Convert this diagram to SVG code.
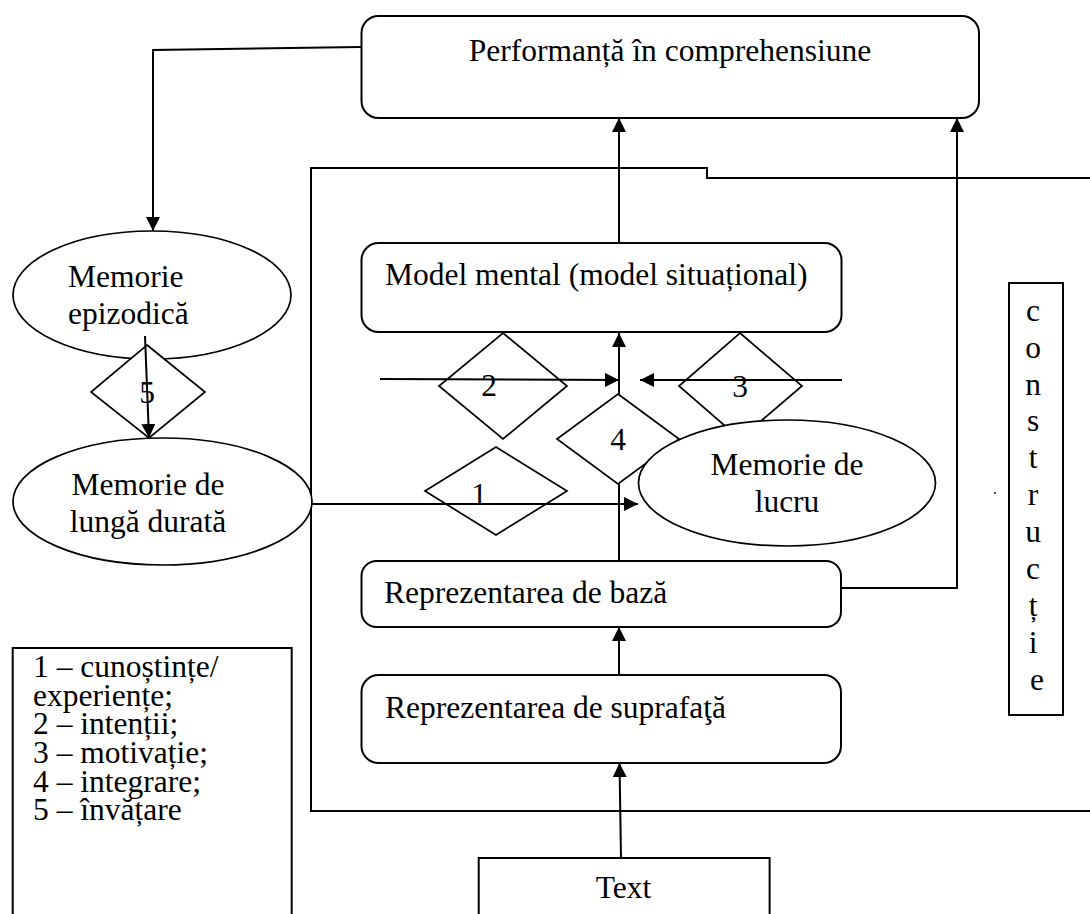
<svg xmlns="http://www.w3.org/2000/svg" width="1090" height="914" viewBox="0 0 1090 914">
  <style>
    .box { fill: #fff; stroke: #000; stroke-width: 2; }
    .ell { fill: #fff; stroke: #000; stroke-width: 1.7; }
    .dia { fill: #fff; stroke: #000; stroke-width: 1.7; }
    .ln { fill: none; stroke: #000; stroke-width: 2; }
    .arr { fill: none; stroke: #000; stroke-width: 2; marker-end: url(#ah); }
    .t { font-family: 'Liberation Serif', 'DejaVu Serif', 'Noto Serif', serif; font-size: 31.5px; fill: #000; }
    .mid { text-anchor: middle; }
  </style>
  <defs>
    <marker id="ah" markerWidth="14" markerHeight="14" refX="14" refY="7" orient="auto" markerUnits="userSpaceOnUse">
      <path d="M0,0 L14,7 L0,14 Z" fill="#000"/>
    </marker>
  </defs>

  <rect width="1090" height="914" fill="#fff"/>

  <!-- enclosing frame of the construction process -->
  <g id="frame">
    <polyline class="ln" points="1092,178 707,178 707,168 311,168 311,811 1092,811"/>
  </g>

  <g id="memorie-epizodica" font-family="Liberation Serif, serif">
    <ellipse class="ell" cx="152" cy="295" rx="139" ry="64"/>
    <text class="t" x="68" y="287">Memorie</text>
    <text class="t" x="68" y="324">epizodică</text>
  </g>

  <g id="memorie-lunga-durata">
    <ellipse class="ell" cx="162.5" cy="501.5" rx="149.5" ry="63.5"/>
    <text class="t mid" x="148" y="495">Memorie de</text>
    <text class="t mid" x="148" y="532">lungă durată</text>
  </g>

  <g id="d5">
    <polygon class="dia" points="147,345 205,392 149,438 91,392"/>
    <text class="t mid" x="147" y="403">5</text>
  </g>

  <g id="d2">
    <polygon class="dia" points="503,333 567,386 503,439 439,386"/>
    <text class="t mid" x="489" y="396">2</text>
  </g>

  <g id="d3">
    <polygon class="dia" points="740,333 802,386 740,439 679,386"/>
    <text class="t mid" x="740" y="397">3</text>
  </g>

  <g id="d1">
    <polygon class="dia" points="496,447 567,491 496,535 425,491"/>
    <text class="t mid" x="479" y="505">1</text>
  </g>

  <g id="d4">
    <polygon class="dia" points="618,394 679,439 618,484 557,439"/>
    <text class="t mid" x="618" y="450">4</text>
  </g>

  <g id="memorie-lucru">
    <ellipse class="ell" cx="787" cy="483" rx="148.5" ry="63"/>
    <text class="t mid" x="787" y="475">Memorie de</text>
    <text class="t mid" x="787" y="512">lucru</text>
  </g>

  <g id="performanta">
    <rect class="box" x="361.5" y="16" width="617.5" height="102" rx="17"/>
    <text class="t mid" x="670" y="61">Performanță în comprehensiune</text>
  </g>

  <g id="model-mental">
    <rect class="box" x="361.5" y="243" width="480" height="89" rx="17"/>
    <text class="t" x="385" y="285">Model mental (model situațional)</text>
  </g>

  <g id="reprezentare-baza">
    <rect class="box" x="361.5" y="561" width="479.5" height="66" rx="15"/>
    <text class="t" x="384" y="603">Reprezentarea de bază</text>
  </g>

  <g id="reprezentare-suprafata">
    <rect class="box" x="361.5" y="675" width="479.5" height="88" rx="17"/>
    <text class="t" x="385" y="718">Reprezentarea de suprafaţă</text>
  </g>

  <g id="text-sursa">
    <polyline class="box" points="478.7,916 478.7,858 769.6,858 769.6,916"/>
    <text class="t mid" x="623.5" y="898">Text</text>
  </g>

  <g id="legenda">
    <polyline class="box" points="12.7,916 12.7,648 291.7,648 291.7,916"/>
    <text class="t" x="33" y="677">1 – cunoștințe/</text>
    <text class="t" x="33" y="706">experiențe;</text>
    <text class="t" x="33" y="734">2 – intenții;</text>
    <text class="t" x="33" y="763">3 – motivație;</text>
    <text class="t" x="33" y="792">4 – integrare;</text>
    <text class="t" x="33" y="820">5 – învățare</text>
  </g>

  <g id="constructie">
    <rect class="box" x="1009" y="283" width="54" height="432" stroke-width="1.8"/>
    <text class="t mid">
      <tspan x="1037" y="321">c</tspan>
      <tspan x="1037" y="358">o</tspan>
      <tspan x="1037" y="394.5">n</tspan>
      <tspan x="1037" y="431">s</tspan>
      <tspan x="1037" y="468">t</tspan>
      <tspan x="1037" y="505">r</tspan>
      <tspan x="1037" y="542">u</tspan>
      <tspan x="1037" y="579">c</tspan>
      <tspan x="1037" y="616">ț</tspan>
      <tspan x="1037" y="653">i</tspan>
      <tspan x="1037" y="690">e</tspan>
    </text>
  </g>

  <circle cx="995" cy="493" r="0.9" fill="#000"/>

  <g id="connectors">
    <!-- feedback from performance to episodic memory -->
    <polyline class="arr" points="361,47 153,50 153,231"/>
    <!-- learning: episodic to long-term memory -->
    <line class="arr" x1="145" y1="336" x2="149" y2="438"/>
    <!-- knowledge from long-term memory into working memory -->
    <line class="arr" x1="312" y1="504" x2="638" y2="504"/>
    <!-- intentions and motivation -->
    <line class="arr" x1="380" y1="379" x2="619" y2="380"/>
    <line class="arr" x1="842" y1="380" x2="640" y2="380"/>
    <!-- integration up to the mental model -->
    <line class="arr" x1="619" y1="394" x2="619" y2="333"/>
    <line class="ln" x1="619" y1="484" x2="619" y2="561"/>
    <!-- mental model to performance -->
    <line class="arr" x1="619" y1="243" x2="619" y2="118"/>
    <!-- surface to base representation -->
    <line class="arr" x1="619" y1="675" x2="619" y2="627"/>
    <!-- text to surface representation -->
    <line class="arr" x1="621" y1="858" x2="619.5" y2="763"/>
    <!-- base representation straight to performance -->
    <polyline class="arr" points="841,588 957,588 957,118"/>
  </g>
</svg>
